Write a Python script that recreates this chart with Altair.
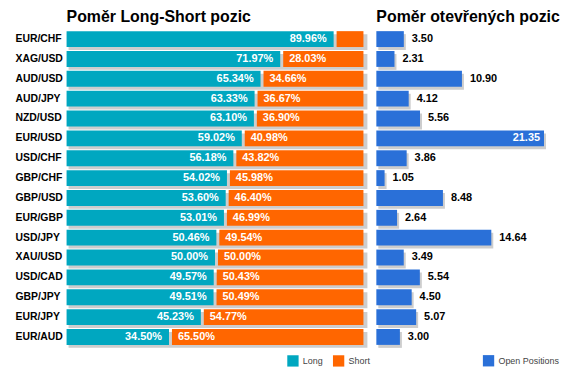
import altair as alt
import pandas as pd

pairs = ["EUR/CHF", "XAG/USD", "AUD/USD", "AUD/JPY", "NZD/USD", "EUR/USD", "USD/CHF", "GBP/CHF",
         "GBP/USD", "EUR/GBP", "USD/JPY", "XAU/USD", "USD/CAD", "GBP/JPY", "EUR/JPY", "EUR/AUD"]
long_pct = [89.96, 71.97, 65.34, 63.33, 63.10, 59.02, 56.18, 54.02, 53.60, 53.01, 50.46, 50.00, 49.57, 49.51, 45.23, 34.50]
short_pct = [10.04, 28.03, 34.66, 36.67, 36.90, 40.98, 43.82, 45.98, 46.40, 46.99, 49.54, 50.00, 50.43, 50.49, 54.77, 65.50]
open_pos = [3.50, 2.31, 10.90, 4.12, 5.56, 21.35, 3.86, 1.05, 8.48, 2.64, 14.64, 3.49, 5.54, 4.50, 5.07, 3.00]

TEAL = "#00A7C0"
ORANGE = "#FF6600"
BLUE = "#2A70D8"
GREY = "#CDCDCD"
GAP = 1.0  # separation between long and short segments (in % units)

rows = []
for p, l, s in zip(pairs, long_pct, short_pct):
    rows.append({"pair": p, "type": "Long", "start": 0.0, "end": l, "value": l,
                 "label": f"{l:.2f}%", "show": True})
    rows.append({"pair": p, "type": "Short", "start": l + GAP, "end": 100.0, "value": s,
                 "label": f"{s:.2f}%", "show": s >= 15})
ls_df = pd.DataFrame(rows)
shadow_df = pd.DataFrame({"pair": pairs, "start": [0.0] * len(pairs), "end": [100.0] * len(pairs)})

op_df = pd.DataFrame({"pair": pairs, "value": open_pos, "series": ["Open Positions"] * len(pairs),
                      "label": [f"{v:.2f}" for v in open_pos]})
vmax = max(open_pos)

yscale = alt.Scale(paddingInner=0.2, paddingOuter=0.1)
ybase = alt.Y("pair:N", sort=pairs, scale=yscale, title=None)

# ---------- Left panel ----------
shadow = alt.Chart(shadow_df).mark_bar(color=GREY, xOffset=2, x2Offset=4, yOffset=3).encode(
    x=alt.X("start:Q", scale=alt.Scale(domain=[0, 100]), axis=None),
    x2="end:Q",
    y=alt.Y("pair:N", sort=pairs, scale=yscale, title=None,
            axis=alt.Axis(domain=False, ticks=False, tickSize=0, labelAlign="left",
                          labelPadding=52, labelFontSize=10.5, labelFontWeight="bold",
                          labelColor="black", labelFont="Liberation Sans")),
)
bars = alt.Chart(ls_df).mark_bar().encode(
    x=alt.X("start:Q", scale=alt.Scale(domain=[0, 100]), axis=None),
    x2="end:Q",
    y=ybase,
    color=alt.Color("type:N",
                    scale=alt.Scale(domain=["Long", "Short"], range=[TEAL, ORANGE]),
                    legend=alt.Legend(title=None, orient="none", legendX=222, legendY=328,
                                      direction="horizontal", symbolType="square",
                                      symbolSize=130, symbolStrokeWidth=0, labelFontSize=9,
                                      labelColor="#444444", labelOffset=4, columnPadding=9,
                                      padding=0, labelFont="Liberation Sans")),
)
long_txt = alt.Chart(ls_df).transform_filter("datum.type == 'Long'").mark_text(
    align="right", baseline="middle", dx=-7, color="white", fontSize=11, fontWeight="bold",
    font="Liberation Sans").encode(
    x=alt.X("end:Q", scale=alt.Scale(domain=[0, 100]), axis=None),
    y=ybase, text="label:N")
short_txt = alt.Chart(ls_df).transform_filter("datum.type == 'Short' && datum.show").mark_text(
    align="left", baseline="middle", dx=6, color="white", fontSize=11, fontWeight="bold",
    font="Liberation Sans").encode(
    x=alt.X("start:Q", scale=alt.Scale(domain=[0, 100]), axis=None),
    y=ybase, text="label:N")

left = alt.layer(shadow, bars, long_txt, short_txt).properties(
    width=299, height=320,
    title=alt.TitleParams("Poměr Long-Short pozic", anchor="start", frame="group",
                          fontSize=16, fontWeight="bold", font="Liberation Sans",
                          color="black", offset=4),
)

# ---------- Right panel ----------
xr = alt.Scale(domain=[0, 22])
op_shadow = alt.Chart(op_df).mark_bar(color=GREY, xOffset=2, x2Offset=4, yOffset=3).encode(
    x=alt.X("value:Q", scale=xr, axis=None),
    y=alt.Y("pair:N", sort=pairs, scale=yscale, axis=None),
)
op_bars = alt.Chart(op_df).mark_bar().encode(
    x=alt.X("value:Q", scale=xr, axis=None),
    y=alt.Y("pair:N", sort=pairs, scale=yscale, axis=None),
    color=alt.Color("series:N", scale=alt.Scale(domain=["Open Positions"], range=[BLUE]),
                    legend=alt.Legend(title=None, orient="none", legendX=107, legendY=328,
                                      symbolType="square", symbolSize=130,
                                      symbolStrokeWidth=0, labelFontSize=9,
                                      labelColor="#444444", labelOffset=4, padding=0,
                                      labelFont="Liberation Sans")),
)
op_txt_out = alt.Chart(op_df).transform_filter(f"datum.value < {vmax}").mark_text(
    align="left", baseline="middle", dx=8, color="black", fontSize=11, fontWeight="bold",
    font="Liberation Sans").encode(
    x=alt.X("value:Q", scale=xr, axis=None),
    y=alt.Y("pair:N", sort=pairs, scale=yscale, axis=None), text="label:N")
op_txt_in = alt.Chart(op_df).transform_filter(f"datum.value >= {vmax}").mark_text(
    align="right", baseline="middle", dx=-4, color="white", fontSize=11, fontWeight="bold",
    font="Liberation Sans").encode(
    x=alt.X("value:Q", scale=xr, axis=None),
    y=alt.Y("pair:N", sort=pairs, scale=yscale, axis=None), text="label:N")

right = alt.layer(op_shadow, op_bars, op_txt_out, op_txt_in).properties(
    width=174, height=320,
    title=alt.TitleParams("Poměr otevřených pozic", anchor="start", frame="group",
                          fontSize=16, fontWeight="bold", font="Liberation Sans",
                          color="black", offset=4),
)

chart = alt.hconcat(left, right, spacing=13, bounds="flush").resolve_scale(
    color="independent", x="independent"
).resolve_legend(color="independent").properties(
    padding={"left": 7, "top": 0, "right": 3, "bottom": 5}
).configure(font="Liberation Sans").configure_view(stroke=None, strokeWidth=0)

chart.save("out.html", embed_options={"renderer": "svg", "actions": False})
